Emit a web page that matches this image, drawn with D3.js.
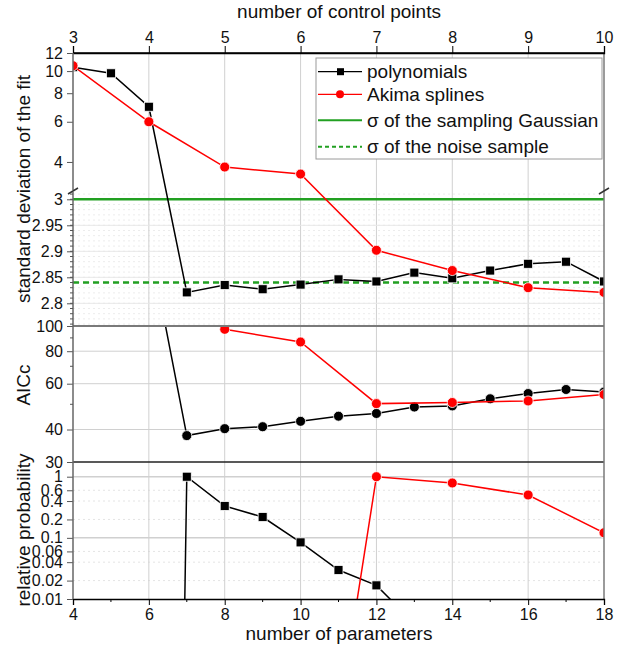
<!DOCTYPE html>
<html>
<head>
<meta charset="utf-8">
<script src="https://cdn.jsdelivr.net/npm/d3@7"></script>
<style>
  body { margin: 0; background: #fff; }
  svg { font-family: "Liberation Sans", Arial, sans-serif; }
</style>
</head>
<body>
<div id="chart"></div>
<script>
// chart values
var polyParams = [4, 5, 6, 7, 8, 9, 10, 11, 12, 13, 14, 15, 16, 17, 18];
var polySigma = [10.4, 9.78, 6.98, 2.821, 2.835, 2.827, 2.836, 2.846, 2.842, 2.859, 2.848, 2.863, 2.876, 2.880, 2.842];
var akimaParams = [4, 6, 8, 10, 12, 14, 16, 18];
var akimaSigma = [10.55, 6.0, 3.80, 3.54, 2.902, 2.863, 2.830, 2.821];

var polyAiccParams = [6, 7, 8, 9, 10, 11, 12, 13, 14, 15, 16, 17, 18];
var polyAicc = [214, 37.9, 40.3, 41.0, 43.0, 45.0, 46.1, 48.8, 49.3, 52.5, 55.0, 57.0, 55.7];
var akimaAiccParams = [8, 10, 12, 14, 16, 18];
var akimaAicc = [97.1, 86.8, 50.3, 50.8, 51.5, 54.5];

var polyProbParams = [6, 7, 8, 9, 10, 11, 12, 13];
var polyProb = [6e-39, 1, 0.332, 0.219, 0.0843, 0.0298, 0.0167, 0.004];
var akimaProbParams = [8, 10, 12, 14, 16, 18];
var akimaProb = [6.9e-11, 1.2e-8, 1, 0.789, 0.502, 0.121];

var sigmaGauss = 3.0;
var sigmaNoise = 2.84;

var controlPointTicks = [3, 4, 5, 6, 7, 8, 9, 10];
var paramTicks = [4, 6, 8, 10, 12, 14, 16, 18];
var upTicks = [4, 6, 8, 10, 12];
var lowTicks = [2.8, 2.85, 2.9, 2.95, 3];
var aiccTicks = [30, 40, 60, 80, 100];
var probTicks = [0.01, 0.02, 0.04, 0.06, 0.1, 0.2, 0.4, 0.6, 1];

var legendNames = ['polynomials', 'Akima splines', '\u03c3 of the sampling Gaussian', '\u03c3 of the noise sample'];

var RED = '#ff0000';
var GREEN = '#22a022';
var GRID = '#d0d0d0';

var width = 627, height = 648;
var left = 73, right = 604;
var topY = 53, breakY = 191, sepA = 326, sepB = 462, bottomY = 599;

var svg = d3.select('#chart').append('svg')
  .attr('width', width)
  .attr('height', height);

// scales
var x = d3.scaleLinear().domain([4, 18]).range([left, right]);
var xTop = d3.scaleLinear().domain([3, 10]).range([left, right]);
var yUp = d3.scaleLog().domain([3, 12]).range([190.5, topY]);
var yLow = d3.scaleLinear().domain([2.8, 3]).range([303.3, 199.3]);
var yA = d3.scaleLog().domain([30, 100]).range([sepB, sepA]);
var yP = d3.scaleLog().domain([0.01, 1]).range([bottomY, 476.7]);

// broken axis: log above the break, linear below
function ySigma(v) { return v > 3.01 ? yUp(v) : yLow(v); }

var defs = svg.append('defs');
function clip(id, y0, y1) {
  defs.append('clipPath').attr('id', id)
    .append('rect').attr('x', left).attr('y', y0).attr('width', right - left).attr('height', y1 - y0);
}
clip('c1', topY, sepA);
clip('c2', sepA, sepB);
clip('c3', sepB, bottomY);

// minor dotted grid
var grid = svg.append('g');
var lowMinor = d3.range(2.76, 3.011, 0.01);
grid.selectAll('.lm').data(lowMinor).enter().append('line')
  .attr('x1', left).attr('x2', right)
  .attr('y1', d => yLow(d)).attr('y2', d => yLow(d))
  .attr('stroke', '#ececec').attr('stroke-dasharray', '2,3');
grid.selectAll('.pm').data([0.02, 0.04, 0.06, 0.2, 0.4, 0.6]).enter().append('line')
  .attr('x1', left).attr('x2', right)
  .attr('y1', d => yP(d)).attr('y2', d => yP(d))
  .attr('stroke', '#e4e4e4').attr('stroke-dasharray', '2,3');

// major grid
grid.selectAll('.vg').data([6, 8, 10, 12, 14, 16]).enter().append('line')
  .attr('x1', d => x(d)).attr('x2', d => x(d))
  .attr('y1', topY).attr('y2', bottomY)
  .attr('stroke', GRID);
grid.selectAll('.lg').data(lowTicks).enter().append('line')
  .attr('x1', left).attr('x2', right)
  .attr('y1', d => yLow(d)).attr('y2', d => yLow(d))
  .attr('stroke', '#e8e8e8');
grid.selectAll('.ag').data([40, 60, 80]).enter().append('line')
  .attr('x1', left).attr('x2', right)
  .attr('y1', d => yA(d)).attr('y2', d => yA(d))
  .attr('stroke', GRID);
grid.selectAll('.pg').data([0.1, 1]).enter().append('line')
  .attr('x1', left).attr('x2', right)
  .attr('y1', d => yP(d)).attr('y2', d => yP(d))
  .attr('stroke', GRID).attr('stroke-width', 1.5);

// reference sigma lines
var p1 = svg.append('g').attr('clip-path', 'url(#c1)');
p1.append('line')
  .attr('x1', left).attr('x2', right)
  .attr('y1', yLow(sigmaGauss)).attr('y2', yLow(sigmaGauss))
  .attr('stroke', GREEN).attr('stroke-width', 2.5);
p1.append('line')
  .attr('x1', left).attr('x2', right)
  .attr('y1', yLow(sigmaNoise)).attr('y2', yLow(sigmaNoise))
  .attr('stroke', GREEN).attr('stroke-width', 2.5).attr('stroke-dasharray', '6,4');

function zip(xs, ys) { return xs.map((d, i) => [d, ys[i]]); }

function series(g, pts, yScale, color, shape) {
  var line = d3.line().x(d => x(d[0])).y(d => yScale(d[1]));
  g.append('path').datum(pts)
    .attr('d', line)
    .attr('fill', 'none').attr('stroke', color).attr('stroke-width', 1.5);
  if (shape === 'square') {
    g.selectAll(null).data(pts).enter().append('rect')
      .attr('x', d => x(d[0]) - 4.5).attr('y', d => yScale(d[1]) - 4.5)
      .attr('width', 9).attr('height', 9)
      .attr('fill', color).attr('stroke', '#fff').attr('stroke-width', 0.8);
  } else {
    g.selectAll(null).data(pts).enter().append('circle')
      .attr('cx', d => x(d[0])).attr('cy', d => yScale(d[1])).attr('r', 5)
      .attr('fill', color).attr('stroke', '#fff').attr('stroke-width', 0.8);
  }
}

series(p1, zip(polyParams, polySigma), ySigma, '#000', 'square');
series(p1, zip(akimaParams, akimaSigma), ySigma, RED, 'circle');

var p2 = svg.append('g').attr('clip-path', 'url(#c2)');
series(p2, zip(polyAiccParams, polyAicc), yA, '#000', 'circle');
series(p2, zip(akimaAiccParams, akimaAicc), yA, RED, 'circle');

var p3 = svg.append('g').attr('clip-path', 'url(#c3)');
series(p3, zip(polyProbParams, polyProb), yP, '#000', 'square');
series(p3, zip(akimaProbParams, akimaProb), yP, RED, 'circle');

// frame lines
var frame = svg.append('g');
frame.append('line').attr('x1', left).attr('x2', right).attr('y1', topY).attr('y2', topY)
  .attr('stroke', '#000').attr('stroke-width', 1.3);
frame.append('line').attr('x1', left).attr('x2', right).attr('y1', sepA).attr('y2', sepA)
  .attr('stroke', '#7a7a7a').attr('stroke-width', 2);
frame.append('line').attr('x1', left).attr('x2', right).attr('y1', sepB).attr('y2', sepB)
  .attr('stroke', '#222').attr('stroke-width', 1.3);
frame.append('line').attr('x1', right).attr('x2', right).attr('y1', topY).attr('y2', bottomY)
  .attr('stroke', '#7a7a7a').attr('stroke-width', 1.5);

// top axis (control points)
svg.append('g')
  .attr('transform', 'translate(0,' + topY + ')')
  .call(d3.axisTop(xTop).tickValues(controlPointTicks).tickSize(7).tickPadding(3).tickFormat(d3.format('d')))
  .call(g => g.select('.domain').attr('stroke', '#000').attr('stroke-width', 1.3))
  .call(g => g.selectAll('text').attr('font-size', 16).attr('fill', '#111'));

// bottom axis (parameters)
var xb = svg.append('g')
  .attr('transform', 'translate(0,' + bottomY + ')')
  .call(d3.axisBottom(x).tickValues(paramTicks).tickSize(6).tickPadding(4).tickFormat(d3.format('d')))
  .call(g => g.select('.domain').attr('stroke', '#000').attr('stroke-width', 1.3))
  .call(g => g.selectAll('text').attr('font-size', 16).attr('fill', '#111'));
xb.selectAll('.minor').data([5, 7, 9, 11, 13, 15, 17]).enter().append('line')
  .attr('x1', d => x(d)).attr('x2', d => x(d)).attr('y1', 0).attr('y2', 3)
  .attr('stroke', '#000');

// left axis pieces
function leftAxis(scale, ticks, fmt, y0, y1) {
  var g = svg.append('g').attr('transform', 'translate(' + left + ',0)');
  g.call(d3.axisLeft(scale).tickValues(ticks).tickSize(6).tickPadding(4).tickFormat(fmt));
  g.select('.domain').remove();
  g.selectAll('text').attr('font-size', 16).attr('fill', '#111');
  g.selectAll('line').attr('stroke', '#555');
  g.append('line').attr('x1', 0).attr('x2', 0).attr('y1', y0).attr('y2', y1)
    .attr('stroke', '#666').attr('stroke-width', 1.5);
  return g;
}
leftAxis(yUp, upTicks, d3.format('d'), topY, breakY - 1);
var la = leftAxis(yLow, lowTicks, d => String(+d.toFixed(2)), breakY + 1, sepA);
la.selectAll('.minor').data(lowMinor).enter().append('line')
  .attr('x1', -3).attr('x2', 0).attr('y1', d => yLow(d)).attr('y2', d => yLow(d))
  .attr('stroke', '#555');
var aa = leftAxis(yA, aiccTicks, d3.format('d'), sepA, sepB);
aa.selectAll('.minor').data([50, 70, 90]).enter().append('line')
  .attr('x1', -3).attr('x2', 0).attr('y1', d => yA(d)).attr('y2', d => yA(d))
  .attr('stroke', '#555');
leftAxis(yP, probTicks, d => String(d), sepB, bottomY);

// break marks
[left, right].forEach(function(bx) {
  svg.append('line')
    .attr('x1', bx - 5).attr('y1', breakY + 3).attr('x2', bx + 5).attr('y2', breakY - 3)
    .attr('stroke', '#333').attr('stroke-width', 1.5);
});

// titles
svg.append('text').attr('x', 339).attr('y', 18).attr('text-anchor', 'middle')
  .attr('font-size', 19).attr('fill', '#111').text('number of control points');
svg.append('text').attr('x', 339).attr('y', 640).attr('text-anchor', 'middle')
  .attr('font-size', 19).attr('fill', '#111').text('number of parameters');

function yTitle(cy, label) {
  svg.append('text')
    .attr('transform', 'translate(30,' + cy + ') rotate(-90)')
    .attr('text-anchor', 'middle')
    .attr('font-size', 19).attr('fill', '#111').text(label);
}
yTitle(189, 'standard deviation of the fit');
yTitle(385, 'AICc');
yTitle(530, 'relative probability');

// legend
var lg = svg.append('g');
lg.append('rect').attr('x', 316).attr('y', 58).attr('width', 286).attr('height', 101)
  .attr('fill', '#fff').attr('stroke', '#9a9a9a');
var rowY = [71.7, 94.3, 120.3, 146.7];
var rows = lg.selectAll('g.row').data(legendNames).enter().append('g')
  .attr('transform', (d, i) => 'translate(0,' + rowY[i] + ')');
rows.append('line').attr('x1', 318).attr('x2', 362).attr('y1', 0).attr('y2', 0)
  .attr('stroke', (d, i) => [ '#000', RED, GREEN, GREEN ][i])
  .attr('stroke-width', (d, i) => i < 2 ? 1.2 : 2)
  .attr('stroke-dasharray', (d, i) => i === 3 ? '4,3' : null);
rows.filter((d, i) => i === 0).append('rect')
  .attr('x', 337).attr('y', -3.5).attr('width', 7).attr('height', 7).attr('fill', '#000');
rows.filter((d, i) => i === 1).append('circle')
  .attr('cx', 340).attr('cy', 0).attr('r', 4).attr('fill', RED);
rows.append('text').attr('x', 367).attr('y', 0).attr('dy', '0.35em')
  .attr('font-size', 19).attr('fill', '#111').text(d => d);
</script>
</body>
</html>
